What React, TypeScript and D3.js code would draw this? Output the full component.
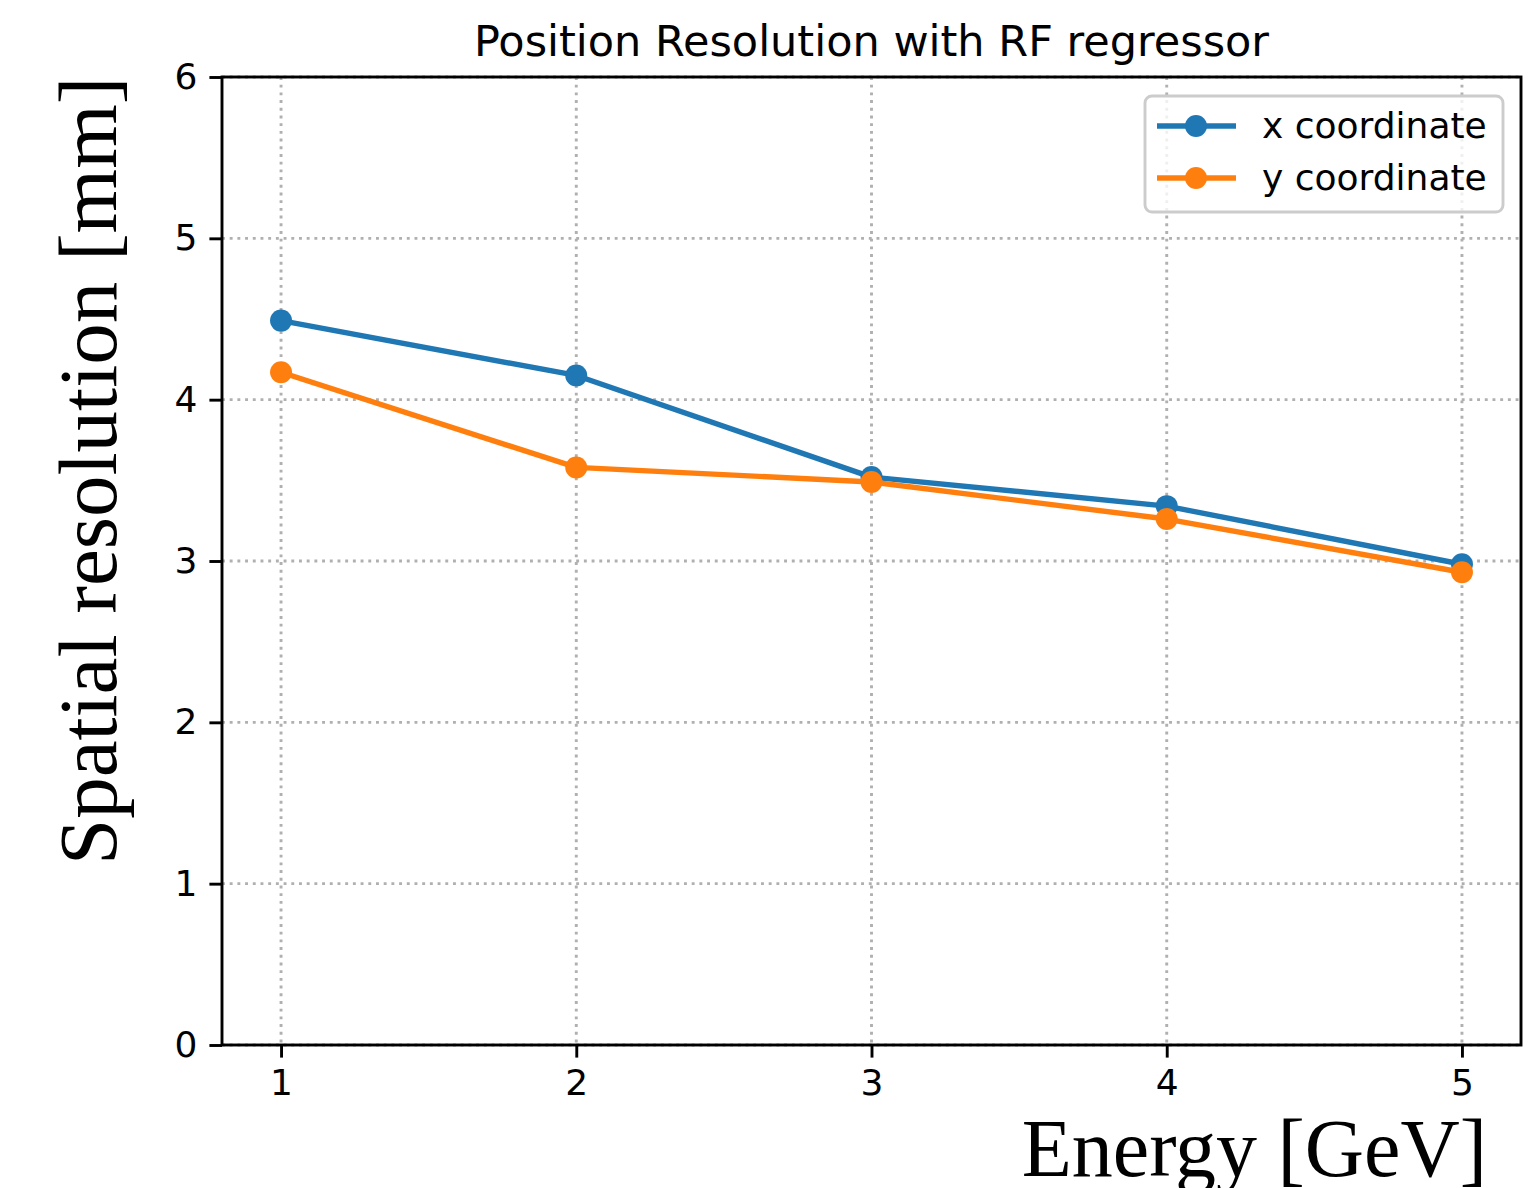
import React, { useEffect, useRef } from 'react';
import * as d3 from 'd3';

const energies = [1, 2, 3, 4, 5];
const xResolution = [4.49, 4.15, 3.52, 3.34, 2.98];
const yResolution = [4.17, 3.58, 3.49, 3.26, 2.93];
const yTicks = [0, 1, 2, 3, 4, 5, 6];
const seriesNames = ['x coordinate', 'y coordinate'];
const seriesColors = ['#1f77b4', '#ff7f0e'];

const W = 1538;
const H = 1188;
const margin = { left: 222, right: 1521, top: 77, bottom: 1045 };
const sans = '"DejaVu Sans", sans-serif';
const serif = '"Liberation Serif", "Times New Roman", serif';

function App() {
    const ref = useRef<SVGSVGElement>(null);

    useEffect(() => {
        const svg = d3.select(ref.current);
        svg.selectAll('*').remove();

        const x = d3.scaleLinear().domain([0.8, 5.2]).range([margin.left, margin.right]);
        const y = d3.scaleLinear().domain([0, 6]).range([margin.bottom, margin.top]);

        svg.append('rect').attr('width', W).attr('height', H).attr('fill', '#fff');

        // grid
        const grid = svg.append('g')
            .attr('stroke', '#b0b0b0')
            .attr('stroke-width', 2.9)
            .attr('stroke-dasharray', '2.9,4.8');
        energies.forEach(e => {
            grid.append('line')
                .attr('x1', x(e)).attr('x2', x(e))
                .attr('y1', margin.top).attr('y2', margin.bottom);
        });
        yTicks.forEach(t => {
            grid.append('line')
                .attr('x1', margin.left).attr('x2', margin.right)
                .attr('y1', y(t)).attr('y2', y(t));
        });

        // series
        const series = [xResolution, yResolution];
        series.forEach((vals, i) => {
            const pts: [number, number][] = energies.map((e, j) => [e, vals[j]]);
            const line = d3.line<[number, number]>().x(d => x(d[0])).y(d => y(d[1]));
            svg.append('path')
                .attr('d', line(pts))
                .attr('fill', 'none')
                .attr('stroke', seriesColors[i])
                .attr('stroke-width', 5.4)
                .attr('stroke-linejoin', 'round')
                .attr('stroke-linecap', 'square');
            svg.selectAll(null)
                .data(pts)
                .enter()
                .append('circle')
                .attr('cx', d => x(d[0]))
                .attr('cy', d => y(d[1]))
                .attr('r', 11)
                .attr('fill', seriesColors[i]);
        });

        // axes
        const xAxis = d3.axisBottom(x).tickValues(energies).tickSize(12.6).tickPadding(12)
            .tickFormat(d => String(d));
        const gx = svg.append('g').attr('transform', `translate(0,${margin.bottom})`).call(xAxis);
        const yAxis = d3.axisLeft(y).tickValues(yTicks).tickSize(12.6).tickPadding(12)
            .tickFormat(d => String(d));
        const gy = svg.append('g').attr('transform', `translate(${margin.left},0)`).call(yAxis);
        [gx, gy].forEach(g => {
            g.attr('font-size', 36).attr('font-family', sans);
            g.select('.domain').remove();
            g.selectAll('.tick line').attr('stroke', '#000').attr('stroke-width', 2.9);
            g.selectAll('.tick text').attr('fill', '#000');
        });

        // spines
        svg.append('rect')
            .attr('x', margin.left).attr('y', margin.top)
            .attr('width', margin.right - margin.left)
            .attr('height', margin.bottom - margin.top)
            .attr('fill', 'none')
            .attr('stroke', '#000')
            .attr('stroke-width', 2.9);

        // title
        svg.append('text')
            .attr('x', (margin.left + margin.right) / 2)
            .attr('y', 56)
            .attr('text-anchor', 'middle')
            .attr('font-family', sans)
            .attr('font-size', 43)
            .text('Position Resolution with RF regressor');

        // axis labels
        svg.append('text')
            .attr('x', 1487)
            .attr('y', 1176)
            .attr('text-anchor', 'end')
            .attr('font-family', serif)
            .attr('font-size', 82)
            .text('Energy [GeV]');

        svg.append('text')
            .attr('transform', 'translate(116,865) rotate(-90)')
            .attr('text-anchor', 'start')
            .attr('font-family', serif)
            .attr('font-size', 83)
            .text('Spatial resolution [mm]');

        // legend
        const lg = svg.append('g');
        lg.append('rect')
            .attr('x', 1145).attr('y', 96)
            .attr('width', 358).attr('height', 116)
            .attr('rx', 7)
            .attr('fill', '#fff')
            .attr('fill-opacity', 0.8)
            .attr('stroke', '#cccccc')
            .attr('stroke-width', 2.9);
        seriesNames.forEach((name, i) => {
            const cy = 126 + i * 52;
            lg.append('line')
                .attr('x1', 1157).attr('x2', 1236)
                .attr('y1', cy).attr('y2', cy)
                .attr('stroke', seriesColors[i])
                .attr('stroke-width', 5.4);
            lg.append('circle')
                .attr('cx', 1196).attr('cy', cy).attr('r', 11)
                .attr('fill', seriesColors[i]);
            lg.append('text')
                .attr('x', 1262).attr('y', cy + 12)
                .attr('font-family', sans)
                .attr('font-size', 36)
                .text(name);
        });
    }, []);

    return (
        <svg ref={ref} width={W} height={H}
            style={{ position: 'absolute', left: 0, top: 0, display: 'block' }} />
    );
}

export default App;
